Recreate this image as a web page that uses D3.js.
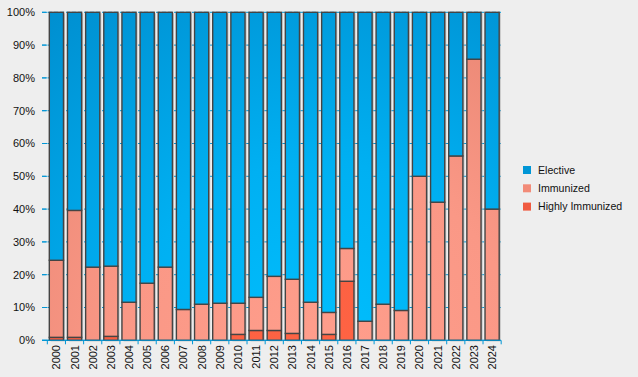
<!DOCTYPE html>
<html><head><meta charset="utf-8">
<script src="https://cdn.jsdelivr.net/npm/d3@7"></script>
<style>body{margin:0;background:#eeeeee;}svg{display:block;font-family:"Liberation Sans",Arial,sans-serif;}</style>
</head><body>
<script>
const years = ["2000","2001","2002","2003","2004","2005","2006","2007","2008","2009","2010","2011","2012","2013","2014","2015","2016","2017","2018","2019","2020","2021","2022","2023","2024"];
const highlyImmunized = [0.9,0.9,0,1.2,0,0,0,0,0,0,1.8,3.0,3.0,2.1,0,1.8,18.0,0,0,0,0,0,0,0,0];
const immunized = [23.5,38.7,22.3,21.4,11.6,17.4,22.3,9.4,11.0,11.3,9.5,10.1,16.5,16.5,11.6,6.7,10.0,5.8,11.0,9.1,50.0,42.1,56.2,85.7,40.0];
const elective = years.map((d,i)=>100-highlyImmunized[i]-immunized[i]);
const seriesNames = ["Elective","Immunized","Highly Immunized"];
const yTicks = [0,10,20,30,40,50,60,70,80,90,100];

const W=638,H=377;
const svg=d3.select("body").append("svg").attr("width",W).attr("height",H);
svg.append("rect").attr("width",W).attr("height",H).attr("fill","#eeeeee");
const defs=svg.append("defs");
function radial(id,inner,mid,outer){
  const g=defs.append("radialGradient").attr("id",id).attr("gradientUnits","userSpaceOnUse")
    .attr("cx",320).attr("cy",360).attr("r",440);
  g.append("stop").attr("offset","0%").attr("stop-color",inner);
  g.append("stop").attr("offset","45%").attr("stop-color",mid);
  g.append("stop").attr("offset","100%").attr("stop-color",outer);
}
radial("gE","#00c0ff","#00b0f2","#008fd0");
radial("gI","#ff9e8c","#fa9886","#e5826f");
radial("gH","#ff6444","#fa5e40","#e8553a");

const x=d3.scaleBand().domain(years).range([47.5,501]).paddingInner(0.22).paddingOuter(0.1);
const y=d3.scaleLinear().domain([0,100]).range([340.3,12.3]);
const step=x.step();

// gridlines
svg.append("g").selectAll("line").data(yTicks).join("line")
  .attr("x1",42).attr("x2",501).attr("y1",d=>y(d)).attr("y2",d=>y(d))
  .attr("stroke","#0096d6").attr("stroke-width",1)
  .attr("stroke-dasharray",d=>d===0?null:"4,2");
svg.append("g").selectAll("line").data(yTicks).join("line")
  .attr("x1",42).attr("x2",47.5).attr("y1",d=>y(d)).attr("y2",d=>y(d))
  .attr("stroke","#0096d6").attr("stroke-width",1);
svg.append("g").selectAll("text").data(yTicks).join("text")
  .attr("x",35).attr("y",d=>y(d)).attr("dy","0.35em").attr("text-anchor","end")
  .attr("font-size",11).attr("fill","#111").text(d=>d+"%");

const stack=years.map((yr,i)=>{
  const h=highlyImmunized[i], im=immunized[i];
  return [
    {yr,s:"H",y0:0,y1:h},
    {yr,s:"I",y0:h,y1:h+im},
    {yr,s:"E",y0:h+im,y1:100}
  ];
});
svg.append("g").selectAll("rect").data(years).join("rect")
  .attr("x",d=>x(d)+1.5).attr("y",y(100)+1).attr("width",x.bandwidth()).attr("height",y(0)-y(100))
  .attr("fill","#a8a8a8").attr("opacity",0.7);
const fills={E:"url(#gE)",I:"url(#gI)",H:"url(#gH)"};
svg.append("g").selectAll("rect").data(stack.flat().filter(d=>d.y1-d.y0>0)).join("rect")
  .attr("x",d=>x(d.yr)).attr("width",x.bandwidth())
  .attr("y",d=>y(d.y1)).attr("height",d=>y(d.y0)-y(d.y1))
  .attr("fill",d=>fills[d.s]).attr("stroke","#444").attr("stroke-width",1.4);

svg.append("line").attr("x1",42).attr("x2",501).attr("y1",y(0)).attr("y2",y(0)).attr("stroke","#0096d6");
svg.append("g").selectAll("line").data(years.concat(["end"])).join("line")
  .attr("x1",(d,i)=>47.5+step*0.1-step*0.11+i*step).attr("x2",(d,i)=>47.5+step*0.1-step*0.11+i*step)
  .attr("y1",y(0)).attr("y2",y(0)+4).attr("stroke","#0096d6");
svg.append("g").selectAll("text").data(years).join("text")
  .attr("transform",d=>`translate(${x(d)+x.bandwidth()/2+4},${345}) rotate(-90)`)
  .attr("text-anchor","end").attr("font-size",11).attr("fill","#111").text(d=>d);

const legColors=["#0096d6","#f28b78","#f05a40"];
const lg=svg.append("g").selectAll("g").data(seriesNames).join("g")
  .attr("transform",(d,i)=>`translate(523,${170+i*18.3})`);
lg.append("rect").attr("x",0).attr("y",-4).attr("width",8).attr("height",8).attr("fill",(d,i)=>legColors[i]);
lg.append("text").attr("x",15).attr("y",0).attr("dy","0.35em").attr("font-size",10.6).attr("fill","#111").text(d=>d);
</script>
</body></html>
